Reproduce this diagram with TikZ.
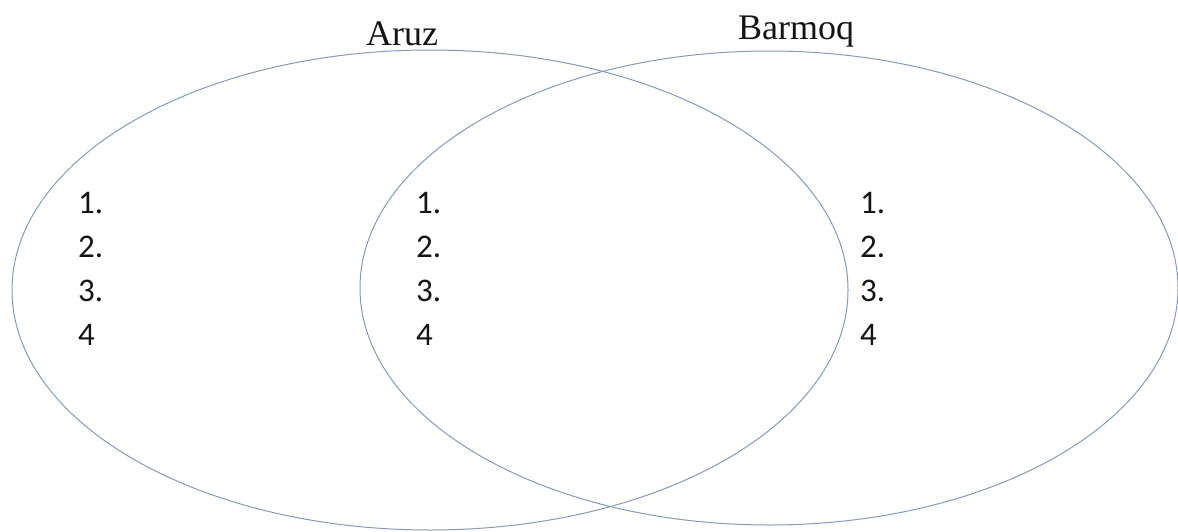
\documentclass[tikz,border=0pt]{standalone}
\usepackage{fontspec}
\setmainfont{Liberation Serif}
\newfontfamily\numfont{Carlito}
\definecolor{ringblue}{RGB}{130,155,185}
\definecolor{inkgray}{RGB}{20,20,20}
\begin{document}
\begin{tikzpicture}[x=1pt,y=-1pt,
  ring/.style={draw=ringblue,line width=1pt},
  setlabel/.style={anchor=base,inner sep=0pt,text=inkgray,font=\fontsize{36}{40}\selectfont},
  item/.style={anchor=base west,inner sep=0pt,text=inkgray,font=\numfont\fontsize{33}{38}\selectfont}]
\useasboundingbox (0,0) rectangle (1178,531);
\coordinate (cA) at (430,290);
\coordinate (cB) at (769,288);
\draw[ring] (cA) ellipse [x radius=418, y radius=240];
\draw[ring] (cB) ellipse [x radius=409, y radius=237];
\node[setlabel] (labA) at (402,45) {Aruz};
\node[setlabel] (labB) at (796,39) {Barmoq};
% left column
\node[item] (a1) at (78,213) {1.};
\node[item] (a2) at (78,257) {2.};
\node[item] (a3) at (78,301) {3.};
\node[item] (a4) at (78,345) {4};
% middle column
\node[item] (m1) at (416,213) {1.};
\node[item] (m2) at (416,257) {2.};
\node[item] (m3) at (416,301) {3.};
\node[item] (m4) at (416,345) {4};
% right column
\node[item] (b1) at (860,213) {1.};
\node[item] (b2) at (860,257) {2.};
\node[item] (b3) at (860,301) {3.};
\node[item] (b4) at (860,345) {4};
\end{tikzpicture}
\end{document}
